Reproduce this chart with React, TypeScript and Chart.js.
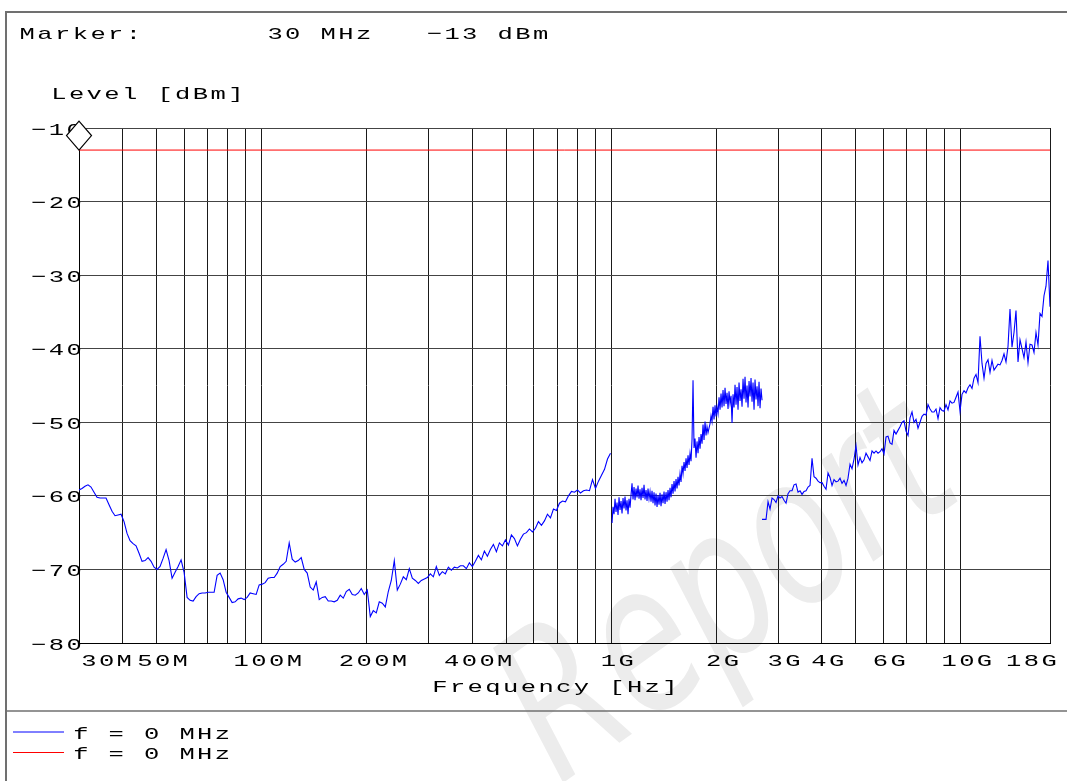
import React, { useEffect, useRef } from "react";
import { Chart, registerables } from "chart.js";

Chart.register(...registerables);

// ---------- data ----------
// Sweep segment A: 30 MHz .. 995 MHz, levels in dBm at evenly spaced (log) sweep points
const SEG_A_START_MHZ = 30;
const SEG_A_STOP_MHZ = 995;
const SEG_A_LEVELS = [
  -59.2, -59.0, -58.7, -58.5, -58.8, -59.5, -60.2, -60.3, -60.3, -60.3,
  -61.2, -62.1, -62.7, -62.6, -62.5, -63.5, -65.1, -66.1, -66.5, -66.8,
  -67.8, -68.9, -68.8, -68.4, -68.9, -69.7, -70.0, -69.6, -68.5, -67.3,
  -68.8, -71.2, -70.4, -69.6, -68.7, -70.4, -73.8, -74.2, -74.3, -73.7,
  -73.3, -73.2, -73.2, -73.1, -73.1, -73.1, -70.8, -70.5, -71.4, -73.1,
  -73.8, -74.5, -74.4, -74.0, -73.9, -74.1, -73.8, -73.2, -73.3, -73.4,
  -72.1, -72.0, -71.8, -71.2, -71.1, -71.1, -70.5, -69.6, -69.3, -68.9,
  -66.4, -68.6, -69.0, -68.8, -68.4, -70.0, -70.5, -72.4, -72.8, -71.7,
  -74.1, -73.8, -73.7, -74.3, -74.3, -74.4, -74.2, -73.5, -73.9, -73.0,
  -72.7, -73.4, -73.5, -73.2, -72.6, -73.4, -72.8, -76.4, -75.6, -75.9,
  -74.4, -74.6, -75.1, -73.0, -71.5, -68.8, -72.8, -72.0, -71.0, -71.4,
  -69.9, -71.2, -71.5, -71.9, -71.5, -71.3, -71.1, -70.6, -71.0, -69.6,
  -70.8, -70.3, -70.6, -69.7, -70.1, -69.7, -69.8, -69.5, -69.5, -69.9,
  -69.1, -69.6, -68.9, -68.1, -68.7, -67.5, -68.2, -67.3, -66.6, -67.6,
  -66.4, -66.8, -66.0, -66.7, -65.3, -65.8, -66.8, -65.9, -65.2, -65.0,
  -64.5, -64.9, -64.4, -63.5, -64.0, -63.4, -62.5, -63.0, -61.8, -62.0,
  -61.0, -60.7, -60.8, -60.0, -59.4, -59.5, -59.2, -59.6, -59.3, -59.2,
  -59.3, -57.8, -59.0, -58.0, -57.2, -56.4, -55.0, -54.2,
];

// Sweep segment B: 1005 MHz .. 2700 MHz
const SEG_B_START_MHZ = 1005;
const SEG_B_STOP_MHZ = 2700;
const SEG_B_LEVELS = [
  -63.7, -61.5, -62.5, -60.4, -62.2, -60.9, -62.6, -60.2, -61.9, -60.7,
  -62.4, -60.3, -61.7, -60.1, -62.0, -60.6, -62.5, -60.4, -61.6, -59.9,
  -58.3, -60.5, -58.8, -60.6, -59.0, -60.2, -58.6, -60.4, -59.1, -60.6,
  -58.9, -60.3, -58.5, -60.5, -59.2, -60.7, -59.0, -60.4, -59.4, -60.8,
  -59.3, -61.0, -59.5, -61.3, -59.7, -61.5, -59.9, -61.2, -59.6, -61.4,
  -59.8, -61.0, -59.4, -61.1, -59.5, -60.8, -59.2, -60.6, -58.9, -60.2,
  -58.4, -59.7, -58.0, -59.4, -57.7, -59.0, -57.4, -58.6, -57.0, -58.1,
  -55.9, -57.0, -55.4, -56.6, -54.9, -56.2, -54.5, -55.8, -54.2, -55.3,
  -52.3, -44.3, -53.5, -52.2, -54.8, -52.6, -54.2, -52.0, -53.6, -51.6,
  -52.9, -50.3, -52.4, -49.9, -51.8, -50.6, -51.4, -50.8, -50.2, -49.1,
  -49.9, -47.9, -49.6, -47.7, -49.2, -47.9, -48.8, -46.6, -48.3, -46.1,
  -48.0, -45.6, -47.8, -45.3, -47.5, -46.0, -48.2, -45.8, -47.4, -46.4,
  -50.1, -46.2, -48.0, -44.9, -47.6, -45.2, -48.3, -44.6, -47.1, -45.5,
  -47.9, -44.1, -46.8, -43.8, -47.3, -45.0, -48.0, -44.4, -46.5, -44.0,
  -47.2, -44.6, -48.3, -44.2, -46.9, -45.1, -47.8, -44.5, -48.1, -45.4,
  -47.0,
];

// Sweep segment C: 2700 MHz .. 18000 MHz
const SEG_C_START_MHZ = 2700;
const SEG_C_STOP_MHZ = 18000;
const SEG_C_LEVELS = [
  -63.2, -63.2, -63.2, -60.8, -61.8, -60.3, -60.5, -60.9, -60.0, -60.3,
  -60.1, -60.6, -61.0, -59.7, -59.3, -59.3, -58.5, -58.4, -59.5, -59.3,
  -59.8, -59.4, -59.3, -58.8, -58.6, -54.9, -57.4, -57.6, -58.0, -58.2,
  -58.2, -58.7, -59.1, -56.9, -57.5, -58.6, -57.8, -58.1, -58.0, -57.6,
  -58.3, -57.9, -58.6, -57.6, -55.7, -56.3, -55.0, -53.2, -55.8, -54.8,
  -55.5, -55.1, -54.2, -54.7, -55.2, -53.9, -54.2, -53.9, -54.2, -54.0,
  -53.6, -54.3, -52.0, -51.9, -52.8, -53.0, -51.1, -51.6, -51.1, -50.6,
  -50.0, -49.8, -51.2, -51.8, -49.4, -48.6, -50.0, -49.6, -50.8, -50.0,
  -49.2, -48.9, -49.0, -47.6, -48.2, -48.6, -48.6, -48.2, -49.5, -48.0,
  -48.4, -48.5, -47.6, -48.3, -47.1, -47.4, -47.3, -46.6, -45.9, -48.5,
  -46.2, -45.7, -46.0, -45.3, -44.9, -45.4, -44.0, -43.5, -44.6, -38.3,
  -42.0, -44.0, -42.0, -41.5, -43.2, -41.6, -42.9, -42.5, -42.1, -42.2,
  -41.6, -40.7, -41.8, -39.7, -34.6, -39.8, -37.8, -34.8, -41.8, -38.8,
  -40.0, -41.2, -39.1, -41.9, -39.4, -39.5, -40.5, -37.8, -39.5, -35.2,
  -35.6, -32.8, -31.5, -28.0, -34.3,
];

const LIMIT_LEVEL_DBM = -13;
const MARKER_FREQ_MHZ = 30;
const MARKER_LEVEL_DBM = -13;

const X_MIN_MHZ = 30;
const X_MAX_MHZ = 18000;
const Y_MIN = -80;
const Y_MAX = -10;
const Y_TICKS = [-80, -70, -60, -50, -40, -30, -20, -10];
const GRID_FREQS_MHZ = [
  30, 40, 50, 60, 70, 80, 90, 100, 200, 300, 400, 500, 600, 700, 800, 900,
  1000, 2000, 3000, 4000, 5000, 6000, 7000, 8000, 9000, 10000, 18000,
];
const X_LABEL_FREQS_MHZ = [30, 50, 100, 200, 400, 1000, 2000, 3000, 4000, 6000, 10000, 18000];
const X_LABEL_TEXTS = ["30M", "50M", "100M", "200M", "400M", "1G", "2G", "3G", "4G", "6G", "10G", "18G"];

const Y_TITLE = "Level [dBm]";
const X_TITLE = "Frequency [Hz]";
const LEGEND_TEXTS = ["f = 0 MHz", "f = 0 MHz"];
const TRACE_COLOR = "#0000ff";
const LIMIT_COLOR = "#ff0000";

// ---------- helpers ----------
const MINUS = "\u2212";
const fmtNum = (v: number) => (v < 0 ? MINUS + Math.abs(v) : String(v));
const MARKER_TEXT = `Marker:       ${MARKER_FREQ_MHZ} MHz   ${fmtNum(MARKER_LEVEL_DBM)} dBm`;

function sweep(startMHz: number, stopMHz: number, levels: number[]) {
  const n = levels.length;
  const r = Math.log(stopMHz / startMHz);
  return levels.map((y, i) => ({ x: startMHz * 1e6 * Math.exp((r * i) / (n - 1)), y }));
}

const FONT = '17px "Liberation Mono", "DejaVu Sans Mono", monospace';
const CELL = 17.7;
const STRETCH = 1.5;

function drawMono(ctx: CanvasRenderingContext2D, text: string, left: number, baseline: number) {
  ctx.save();
  ctx.font = FONT;
  ctx.textAlign = "center";
  ctx.textBaseline = "alphabetic";
  for (let k = 0; k < text.length; k++) {
    const ch = text[k];
    if (ch === " ") continue;
    ctx.save();
    ctx.translate(left + CELL * k + CELL / 2, baseline);
    ctx.scale(STRETCH, 1);
    ctx.fillText(ch, 0, 0);
    ctx.restore();
  }
  ctx.restore();
}

const decorPlugin = {
  id: "decor",
  beforeDraw(chart: any) {
    const ctx: CanvasRenderingContext2D = chart.ctx;
    ctx.save();
    ctx.fillStyle = "#ffffff";
    ctx.fillRect(0, 0, chart.width, chart.height);
    // faint watermark
    ctx.translate(560, 785);
    ctx.rotate(-0.62);
    ctx.scale(0.9, 1.25);
    ctx.font = 'italic 200 165px "DejaVu Sans"';
    ctx.fillStyle = "#ececec";
    ctx.fillText("Report", 0, 0);
    ctx.restore();
  },
  afterDraw(chart: any) {
    const ctx: CanvasRenderingContext2D = chart.ctx;
    const a = chart.chartArea;
    const xs = chart.scales.x;
    const ys = chart.scales.y;
    const W = chart.width;
    const H = chart.height;
    ctx.save();

    // outer frame + legend separator
    ctx.strokeStyle = "#707070";
    ctx.lineWidth = 2;
    ctx.beginPath();
    ctx.moveTo(W, 12);
    ctx.lineTo(6, 12);
    ctx.lineTo(6, H);
    ctx.stroke();
    ctx.lineWidth = 1.5;
    ctx.beginPath();
    ctx.moveTo(6, 711);
    ctx.lineTo(W, 711);
    ctx.stroke();

    ctx.fillStyle = "#000";
    drawMono(ctx, MARKER_TEXT, 18.4, 39);
    drawMono(ctx, Y_TITLE, 50, 99);

    // y tick labels
    Y_TICKS.forEach((v) => {
      const t = fmtNum(v);
      const py = ys.getPixelForValue(v);
      drawMono(ctx, t, a.left + 4 - t.length * CELL, py + 6.5);
    });

    // x tick labels
    X_LABEL_FREQS_MHZ.forEach((f, i) => {
      const t = X_LABEL_TEXTS[i];
      const w = t.length * CELL;
      const px = xs.getPixelForValue(f * 1e6);
      let left = px + 6 - w / 2;
      if (left < a.left + 1) left = a.left + 1;
      if (left + w > a.right + 8) left = a.right + 8 - w;
      drawMono(ctx, t, left, 666);
    });
    drawMono(ctx, X_TITLE, 431, 692);

    // legend
    ctx.lineWidth = 1;
    ctx.strokeStyle = TRACE_COLOR;
    ctx.beginPath();
    ctx.moveTo(13, 732);
    ctx.lineTo(64, 732);
    ctx.stroke();
    ctx.strokeStyle = LIMIT_COLOR;
    ctx.beginPath();
    ctx.moveTo(13, 752.5);
    ctx.lineTo(64, 752.5);
    ctx.stroke();
    ctx.fillStyle = "#000";
    drawMono(ctx, LEGEND_TEXTS[0], 72, 739);
    drawMono(ctx, LEGEND_TEXTS[1], 72, 759);

    // marker diamond (tip at marker position)
    const mx = xs.getPixelForValue(MARKER_FREQ_MHZ * 1e6);
    const my = ys.getPixelForValue(MARKER_LEVEL_DBM);
    const hw = 12.5;
    const hh = 14.5;
    ctx.beginPath();
    ctx.moveTo(mx, my);
    ctx.lineTo(mx + hw, my - hh);
    ctx.lineTo(mx, my - 2 * hh);
    ctx.lineTo(mx - hw, my - hh);
    ctx.closePath();
    ctx.fillStyle = "#fff";
    ctx.fill();
    ctx.strokeStyle = "#000";
    ctx.lineWidth = 1.2;
    ctx.stroke();

    ctx.restore();
  },
};

export default function App() {
  const canvasRef = useRef<HTMLCanvasElement | null>(null);

  useEffect(() => {
    const canvas = canvasRef.current;
    if (!canvas) return;
    const traceStyle = {
      borderColor: TRACE_COLOR,
      borderWidth: 1.1,
      pointRadius: 0,
      tension: 0,
      fill: false,
    };
    const chart = new Chart(canvas, {
      type: "line",
      data: {
        datasets: [
          { label: "trace A", data: sweep(SEG_A_START_MHZ, SEG_A_STOP_MHZ, SEG_A_LEVELS), ...traceStyle },
          { label: "trace B", data: sweep(SEG_B_START_MHZ, SEG_B_STOP_MHZ, SEG_B_LEVELS), ...traceStyle },
          { label: "trace C", data: sweep(SEG_C_START_MHZ, SEG_C_STOP_MHZ, SEG_C_LEVELS), ...traceStyle },
          {
            label: "limit",
            data: [
              { x: X_MIN_MHZ * 1e6, y: LIMIT_LEVEL_DBM },
              { x: X_MAX_MHZ * 1e6, y: LIMIT_LEVEL_DBM },
            ],
            borderColor: LIMIT_COLOR,
            borderWidth: 1,
            pointRadius: 0,
            fill: false,
          },
        ],
      },
      options: {
        responsive: false,
        animation: false,
        devicePixelRatio: 1,
        layout: { padding: { left: 79, top: 128, right: 17, bottom: 138 } },
        plugins: { legend: { display: false }, tooltip: { enabled: false } },
        events: [],
        scales: {
          x: {
            type: "logarithmic",
            min: X_MIN_MHZ * 1e6,
            max: X_MAX_MHZ * 1e6,
            afterBuildTicks: (scale: any) => {
              scale.ticks = GRID_FREQS_MHZ.map((f) => ({ value: f * 1e6 }));
            },
            ticks: { display: false },
            grid: { color: "#1a1a1a", lineWidth: 1, drawTicks: false },
            border: { display: true, color: "#000", width: 1 },
          },
          y: {
            type: "linear",
            min: Y_MIN,
            max: Y_MAX,
            afterBuildTicks: (scale: any) => {
              scale.ticks = Y_TICKS.map((v) => ({ value: v }));
            },
            ticks: { display: false },
            grid: { color: "#444", lineWidth: 1, drawTicks: false },
            border: { display: true, color: "#000", width: 1 },
          },
        },
      },
      plugins: [decorPlugin],
    } as any);
    return () => chart.destroy();
  }, []);

  return (
    <div style={{ position: "fixed", left: 0, top: 0, width: 1067, height: 781, background: "#fff" }}>
      <canvas ref={canvasRef} width={1067} height={781} style={{ display: "block" }} />
    </div>
  );
}
